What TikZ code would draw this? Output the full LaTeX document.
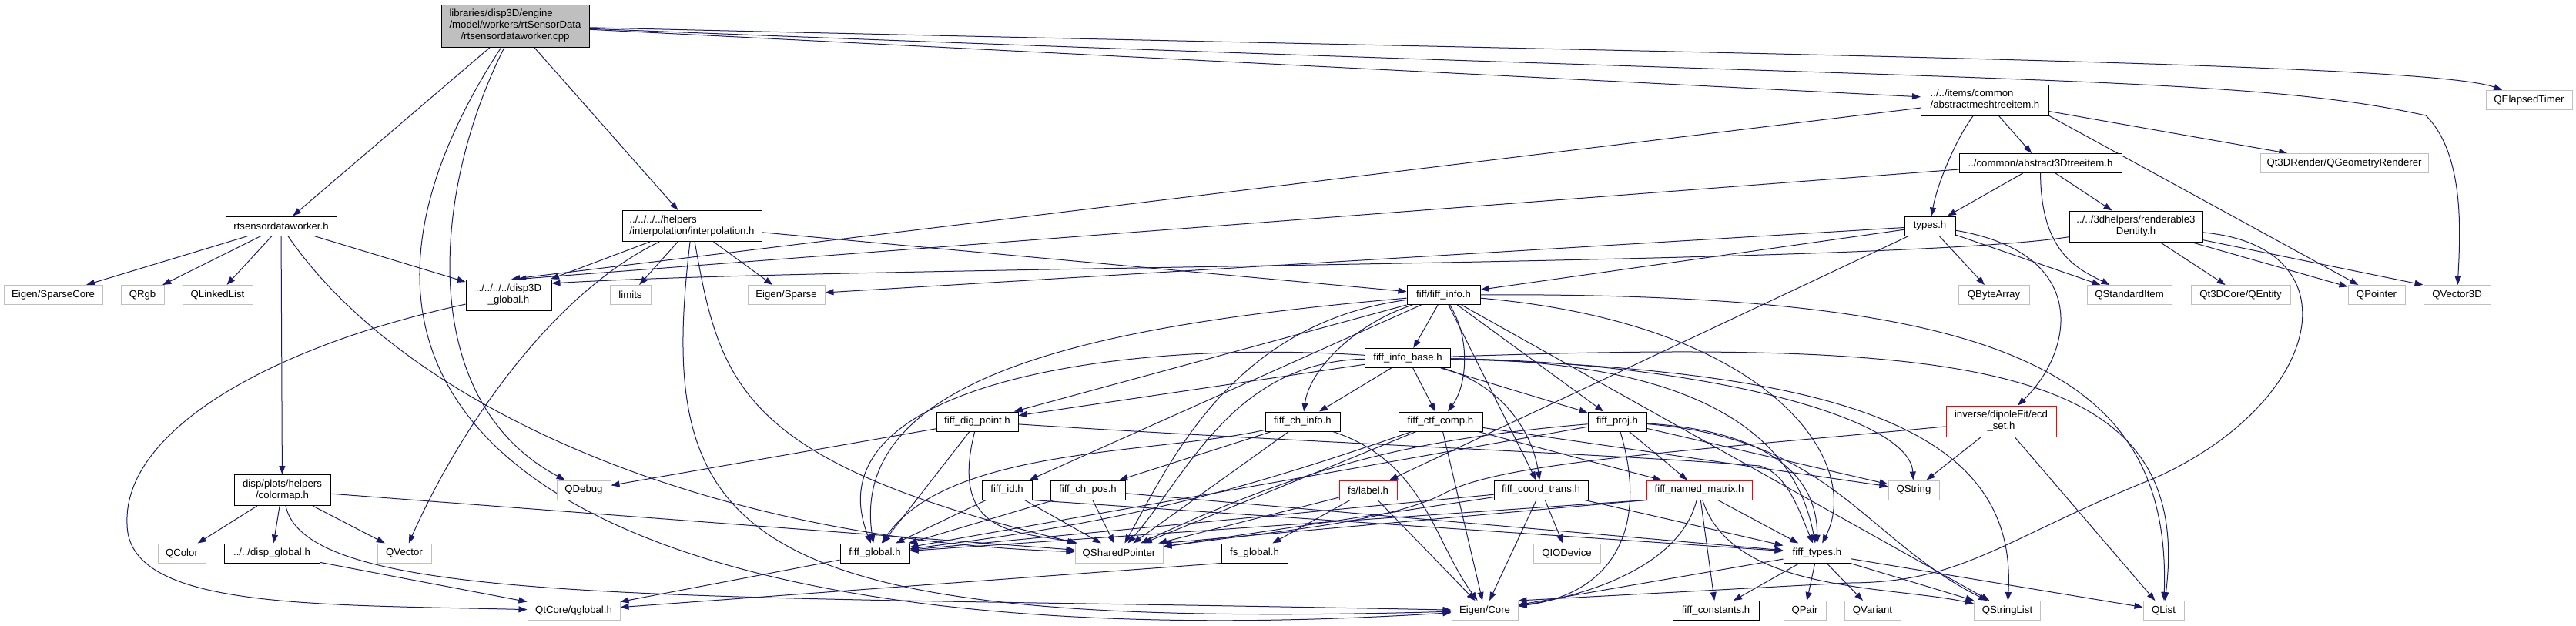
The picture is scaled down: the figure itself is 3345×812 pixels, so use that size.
\documentclass[tikz,border=0pt]{standalone}
\usepackage{fontspec}
\setmainfont{Liberation Sans}
\usetikzlibrary{arrows.meta}
\definecolor{edgeblue}{HTML}{191970}
\definecolor{grey75}{HTML}{BFBFBF}
\pgfdeclarelayer{edges}
\pgfsetlayers{edges,main}
\newcommand{\toplines}[2]{\begin{tabular}{@{}l@{}}#1\\\multicolumn{1}{@{}c@{}}{#2}\end{tabular}}
\begin{document}
\begin{tikzpicture}[x=1pt,y=-1pt,
    font=\fontsize{13.2}{15}\selectfont,
    box/.style={line width=1pt, fill=white, inner sep=0pt, minimum height=25pt},
    hdr/.style={box, draw=black},
    ext/.style={box, draw=grey75},
    cut/.style={box, draw=red},
    dep/.style={draw=edgeblue, line width=1pt, -{Triangle[length=11pt,width=8pt]}}]
  \useasboundingbox (0,0) rectangle (3345,812);
  \node[hdr, fill=grey75, minimum width=192pt, minimum height=55pt] (root) at (669,33.5) {\toplines{libraries/disp3D/engine\\/model/workers/rtSensorData}{/rtsensordataworker.cpp}};
  \node[hdr, minimum width=144pt] (rtsw) at (365,293.5) {rtsensordataworker.h};
  \node[ext, minimum width=128pt] (sparsecore) at (69,383) {Eigen/SparseCore};
  \node[ext, minimum width=56pt] (qrgb) at (185,383) {QRgb};
  \node[ext, minimum width=91pt] (qlinkedlist) at (282.5,383) {QLinkedList};
  \node[hdr, minimum width=111pt, minimum height=40pt] (dispthreeglobal) at (660.5,383) {\toplines{../../../../disp3D}{\_global.h}};
  \node[ext, minimum width=53pt] (limits) at (818.5,383) {limits};
  \node[hdr, minimum width=181pt, minimum height=40pt] (interp) at (898.5,293.5) {\toplines{../../../../helpers}{/interpolation/interpolation.h}};
  \node[ext, minimum width=100pt] (eigensparse) at (1021,383) {Eigen/Sparse};
  \node[hdr, minimum width=125pt, minimum height=40pt] (colormap) at (366.5,636.5) {\toplines{disp/plots/helpers}{/colormap.h}};
  \node[ext, minimum width=62pt] (qcolor) at (236,718.5) {QColor};
  \node[hdr, minimum width=124pt] (dispglobal) at (353,718.5) {../../disp\_global.h};
  \node[ext, minimum width=70pt] (qvector) at (525,718.5) {QVector};
  \node[ext, minimum width=70pt] (qdebug) at (758,636.5) {QDebug};
  \node[ext, minimum width=120pt] (qglobal) at (745,793) {QtCore/qglobal.h};
  \node[hdr, minimum width=106pt] (fiffdig) at (1269,547.5) {fiff\_dig\_point.h};
  \node[hdr, minimum width=65pt] (fiffid) at (1307.5,636.5) {fiff\_id.h};
  \node[hdr, minimum width=97pt] (fiffchpos) at (1412.5,636.5) {fiff\_ch\_pos.h};
  \node[hdr, minimum width=90pt] (fiffglobal) at (1136,718.5) {fiff\_global.h};
  \node[ext, minimum width=114pt] (qsharedptr) at (1453,718.5) {QSharedPointer};
  \node[hdr, minimum width=86pt] (fsglobal) at (1629,718.5) {fs\_global.h};
  \node[hdr, minimum width=95pt] (fiffinfo) at (1874.5,383) {fiff/fiff\_info.h};
  \node[hdr, minimum width=111pt] (fiffinfobase) at (1828,465) {fiff\_info\_base.h};
  \node[hdr, minimum width=97pt] (fiffchinfo) at (1691.5,547.5) {fiff\_ch\_info.h};
  \node[hdr, minimum width=109pt] (fiffctf) at (1870.5,547.5) {fiff\_ctf\_comp.h};
  \node[hdr, minimum width=76pt] (fiffproj) at (2100,547.5) {fiff\_proj.h};
  \node[cut, minimum width=75pt] (fslabel) at (1776.5,636.5) {fs/label.h};
  \node[hdr, minimum width=122pt] (fiffcoord) at (2001,636.5) {fiff\_coord\_trans.h};
  \node[cut, minimum width=137pt] (fiffnamed) at (2206.5,636.5) {fiff\_named\_matrix.h};
  \node[ext, minimum width=66pt] (qstring) at (2485,636.5) {QString};
  \node[ext, minimum width=87pt] (qiodevice) at (2034.5,718.5) {QIODevice};
  \node[hdr, minimum width=87pt] (fifftypes) at (2359.5,718.5) {fiff\_types.h};
  \node[ext, minimum width=86pt] (eigencore) at (1928,793) {Eigen/Core};
  \node[hdr, minimum width=112pt] (fiffconstants) at (2228,793) {fiff\_constants.h};
  \node[ext, minimum width=55pt] (qpair) at (2343.5,793) {QPair};
  \node[ext, minimum width=73pt] (qvariant) at (2431.5,793) {QVariant};
  \node[ext, minimum width=86pt] (qstringlist) at (2606.5,793) {QStringList};
  \node[ext, minimum width=53pt] (qlist) at (2809.5,793) {QList};
  \node[cut, minimum width=143pt, minimum height=40pt] (ecdset) at (2598.5,547) {\toplines{inverse/dipoleFit/ecd}{\_set.h}};
  \node[hdr, minimum width=66pt] (types) at (2506,293.5) {types.h};
  \node[ext, minimum width=92pt] (qbytearray) at (2589,383) {QByteArray};
  \node[hdr, minimum width=166pt, minimum height=40pt] (meshitem) at (2577.5,130) {\toplines{../../items/common}{/abstractmeshtreeitem.h}};
  \node[hdr, minimum width=211pt] (abstractitem) at (2649.5,212) {../common/abstract3Dtreeitem.h};
  \node[ext, minimum width=218pt] (qgeom) at (3044,212) {Qt3DRender/QGeometryRenderer};
  \node[hdr, minimum width=173pt, minimum height=40pt] (renderable) at (2773.5,294) {\toplines{../../3dhelpers/renderable3}{Dentity.h}};
  \node[ext, minimum width=110pt] (qstandarditem) at (2765,383) {QStandardItem};
  \node[ext, minimum width=129pt] (qentity) at (2909.5,383) {Qt3DCore/QEntity};
  \node[ext, minimum width=74pt] (qpointer) at (3086,383) {QPointer};
  \node[ext, minimum width=87pt] (qvectorthree) at (3190.5,383) {QVector3D};
  \node[ext, minimum width=112pt] (qelapsed) at (3284,130) {QElapsedTimer};
  \begin{pgfonlayer}{edges}
    \draw[dep] (root) -- (rtsw);
    \draw[dep] (root) -- (interp);
    \draw[dep] (root) -- (meshitem);
    \draw[dep] (root) .. controls (2200,70) and (3150,80) .. (qelapsed);
    \draw[dep] (root) .. controls (2600,110) and (2900,95) .. (3150,150) .. controls (3200,200) and (3195,300) .. (qvectorthree);
    \draw[dep] (root) .. controls (560,250) and (540,520) .. (qdebug);
    \draw[dep] (root) .. controls (300,600) and (850,860) .. (eigencore);
    \draw[dep] (rtsw) -- (sparsecore);
    \draw[dep] (rtsw) -- (qrgb);
    \draw[dep] (rtsw) -- (qlinkedlist);
    \draw[dep] (rtsw) -- (colormap);
    \draw[dep] (rtsw) -- (dispthreeglobal);
    \draw[dep] (rtsw) .. controls (520,520) and (900,700) .. (qsharedptr);
    \draw[dep] (dispthreeglobal) .. controls (350,450) and (160,560) .. (165,680) .. controls (165,790) and (400,785) .. (qglobal);
    \draw[dep] (colormap) -- (qcolor);
    \draw[dep] (colormap) -- (dispglobal);
    \draw[dep] (colormap) -- (qvector);
    \draw[dep] (colormap) -- (qsharedptr);
    \draw[dep] (colormap) .. controls (400,790) and (900,772) .. (eigencore);
    \draw[dep] (dispglobal) -- (qglobal);
    \draw[dep] (interp) -- (dispthreeglobal);
    \draw[dep] (interp) -- (limits);
    \draw[dep] (interp) -- (eigensparse);
    \draw[dep] (interp) -- (fiffinfo);
    \draw[dep] (interp) .. controls (720,380) and (600,550) .. (qvector);
    \draw[dep] (interp) .. controls (935,500) and (960,600) .. (qsharedptr);
    \draw[dep] (interp) .. controls (850,700) and (950,820) .. (eigencore);
    \draw[dep] (meshitem) -- (dispthreeglobal.80);
    \draw[dep] (meshitem) .. controls (2540,180) and (2515,240) .. (types);
    \draw[dep] (meshitem) -- (abstractitem);
    \draw[dep] (meshitem.south east) -- (qpointer);
    \draw[dep] (meshitem) -- (qgeom);
    \draw[dep] (abstractitem) -- (dispthreeglobal.60);
    \draw[dep] (abstractitem) -- (types);
    \draw[dep] (abstractitem) -- (renderable);
    \draw[dep] (abstractitem) .. controls (2650,330) and (2700,350) .. (qstandarditem);
    \draw[dep] (renderable) .. controls (2450,345) and (1100,345) .. (dispthreeglobal.15);
    \draw[dep] (renderable) -- (qentity);
    \draw[dep] (renderable) -- (qpointer);
    \draw[dep] (renderable) -- (qvectorthree.north west);
    \draw[dep] (renderable) .. controls (3060,320) and (3020,520) .. (2800,620) .. controls (2600,700) and (2550,757) .. (2400,757) -- (eigencore.north east);
    \draw[dep] (types) -- (fiffinfo);
    \draw[dep] (types) -- (fslabel);
    \draw[dep] (types) -- (eigensparse);
    \draw[dep] (types) -- (qbytearray);
    \draw[dep] (types) -- (qstandarditem);
    \draw[dep] (types) .. controls (2720,330) and (2690,460) .. (ecdset);
    \draw[dep] (ecdset) -- (qstring);
    \draw[dep] (ecdset) -- (qlist);
    \draw[dep] (ecdset) .. controls (2200,585) and (1950,600) .. (1877,640) .. controls (1800,680) and (1650,690) .. (qsharedptr);
    \draw[dep] (fiffinfo) -- (fiffinfobase);
    \draw[dep] (fiffinfo) .. controls (1760,420) and (1700,480) .. (fiffchinfo);
    \draw[dep] (fiffinfo) .. controls (1910,440) and (1905,500) .. (fiffctf);
    \draw[dep] (fiffinfo) -- (fiffproj);
    \draw[dep] (fiffinfo) -- (fiffcoord);
    \draw[dep] (fiffinfo) -- (fiffdig);
    \draw[dep] (fiffinfo) -- (fiffid);
    \draw[dep] (fiffinfo) .. controls (1450,420) and (1100,480) .. (fiffglobal);
    \draw[dep] (fiffinfo) .. controls (1600,420) and (1520,600) .. (qsharedptr);
    \draw[dep] (fiffinfo) .. controls (2300,420) and (2420,600) .. (fifftypes);
    \draw[dep] (fiffinfo) -- (qstringlist);
    \draw[dep] (fiffinfo) .. controls (2600,380) and (2820,480) .. (qlist);
    \draw[dep] (fiffinfobase) -- (fiffchinfo);
    \draw[dep] (fiffinfobase) -- (fiffctf);
    \draw[dep] (fiffinfobase) -- (fiffproj);
    \draw[dep] (fiffinfobase) .. controls (1950,500) and (1990,560) .. (fiffcoord);
    \draw[dep] (fiffinfobase) -- (fiffdig);
    \draw[dep] (fiffinfobase) .. controls (1450,440) and (1050,500) .. (fiffglobal);
    \draw[dep] (fiffinfobase) .. controls (1600,470) and (1540,620) .. (qsharedptr);
    \draw[dep] (fiffinfobase) .. controls (2200,470) and (2330,560) .. (fifftypes);
    \draw[dep] (fiffinfobase) .. controls (2200,470) and (2480,540) .. (qstring);
    \draw[dep] (fiffinfobase) .. controls (2400,480) and (2620,560) .. (qstringlist);
    \draw[dep] (fiffinfobase) .. controls (2560,440) and (2850,470) .. (qlist);
    \draw[dep] (fiffchinfo) -- (fiffchpos);
    \draw[dep] (fiffchinfo) .. controls (1500,590) and (1230,580) .. (fiffglobal);
    \draw[dep] (fiffchinfo) -- (qsharedptr);
    \draw[dep] (fiffchinfo) .. controls (1850,600) and (1860,700) .. (eigencore);
    \draw[dep] (fiffchpos) -- (fiffglobal);
    \draw[dep] (fiffchpos) -- (qsharedptr);
    \draw[dep] (fiffchpos) -- (fifftypes);
    \draw[dep] (fiffid) -- (fiffglobal);
    \draw[dep] (fiffid) -- (qsharedptr);
    \draw[dep] (fiffid.south east) -- (fifftypes);
    \draw[dep] (fiffdig) -- (fiffglobal);
    \draw[dep] (fiffdig) .. controls (1230,700) and (1330,690) .. (qsharedptr);
    \draw[dep] (fiffdig) -- (qdebug);
    \draw[dep] (fiffdig) .. controls (1700,575) and (2100,590) .. (2285,605) .. controls (2320,615) and (2335,660) .. (fifftypes);
    \draw[dep] (fiffctf) -- (fiffnamed);
    \draw[dep] (fiffctf) to[bend left=6] (fiffglobal);
    \draw[dep] (fiffctf) -- (qsharedptr);
    \draw[dep] (fiffctf) -- (eigencore);
    \draw[dep] (fiffctf) -- (qstring);
    \draw[dep] (fiffproj) -- (fiffnamed);
    \draw[dep] (fiffproj) -- (fiffglobal);
    \draw[dep] (fiffproj) to[bend right=10] (qsharedptr);
    \draw[dep] (fiffproj) .. controls (2300,560) and (2360,620) .. (fifftypes);
    \draw[dep] (fiffproj) -- (qstring);
    \draw[dep] (fiffproj) .. controls (2380,570) and (2420,700) .. (qstringlist);
    \draw[dep] (fiffproj) .. controls (2140,680) and (2100,770) .. (eigencore);
    \draw[dep] (fiffcoord) -- (fiffglobal);
    \draw[dep] (fiffcoord) -- (qsharedptr);
    \draw[dep] (fiffcoord) -- (fifftypes);
    \draw[dep] (fiffcoord) -- (qiodevice);
    \draw[dep] (fiffcoord) -- (eigencore);
    \draw[dep] (fiffnamed.south west) -- (fiffglobal);
    \draw[dep] (fiffnamed.south west) -- (qsharedptr.north east);
    \draw[dep] (fiffnamed) -- (fifftypes);
    \draw[dep] (fiffnamed) -- (fiffconstants);
    \draw[dep] (fiffnamed) .. controls (2180,740) and (2050,775) .. (eigencore);
    \draw[dep] (fiffnamed) .. controls (2250,770) and (2450,760) .. (qstringlist);
    \draw[dep] (fifftypes) -- (fiffconstants);
    \draw[dep] (fifftypes) -- (qpair);
    \draw[dep] (fifftypes) -- (qvariant);
    \draw[dep] (fifftypes) -- (qstringlist);
    \draw[dep] (fifftypes) -- (qlist);
    \draw[dep] (fifftypes) -- (eigencore);
    \draw[dep] (fslabel) -- (fsglobal);
    \draw[dep] (fslabel) -- (qsharedptr);
    \draw[dep] (fslabel) -- (eigencore);
    \draw[dep] (fsglobal.south west) -- (qglobal);
    \draw[dep] (fiffglobal) -- (qglobal);
  \end{pgfonlayer}
\end{tikzpicture}
\end{document}
